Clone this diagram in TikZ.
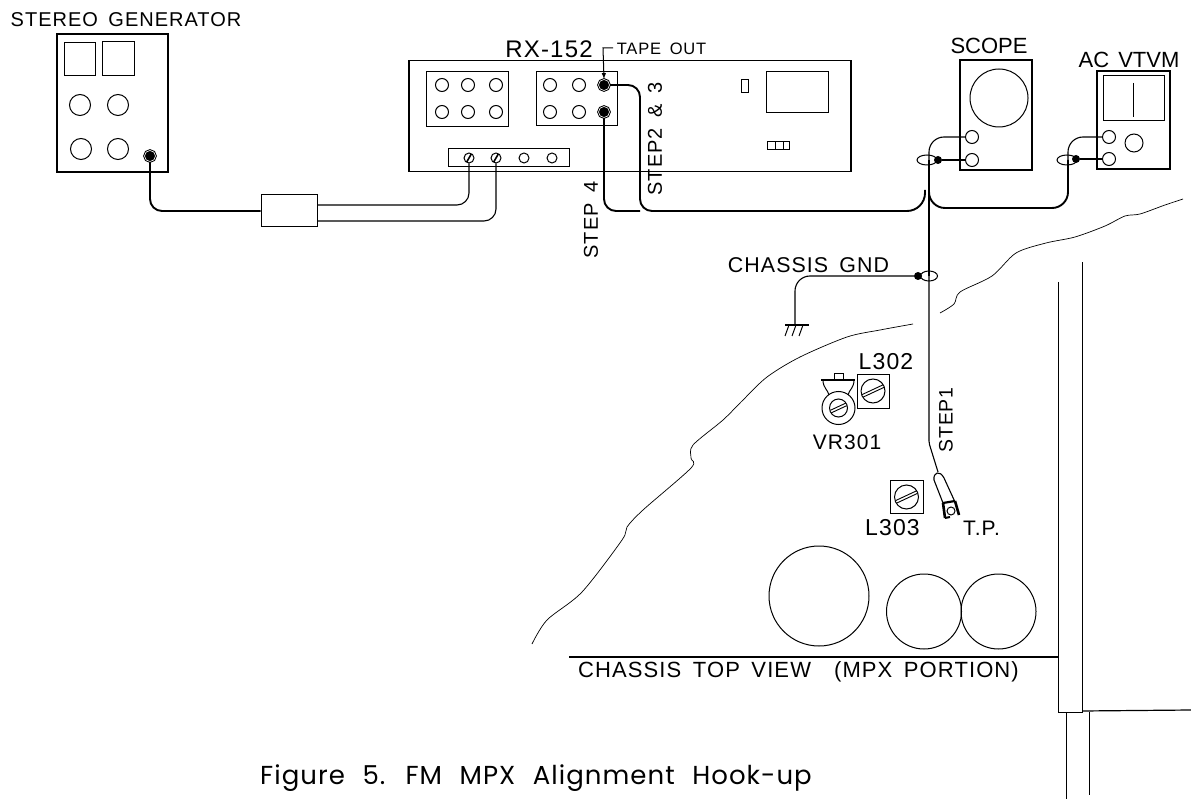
\documentclass[tikz,border=0pt]{standalone}
\usepackage{fontspec}
\usetikzlibrary{shapes.geometric}
\newfontfamily\lblfont[LetterSpace=5,WordSpace=1.6]{Liberation Sans}
\newfontfamily\tightfont[WordSpace=1.5]{Liberation Sans}
\newfontfamily\capfont[LetterSpace=4,WordSpace=2.2]{Poppins}

\tikzset{
  panel/.style={draw, shape=rectangle, inner sep=0pt, line width=1pt},
  unit/.style={panel, line width=1.5pt},
  knob/.style={draw, shape=circle, inner sep=0pt, minimum size=#1pt, line width=1pt},
  jack/.style={draw, shape=circle, inner sep=0pt, minimum size=11pt, fill=black, line width=1pt, double=white, double distance=0.6pt},
  screw/.style={knob=#1, path picture={\draw[shift={(path picture bounding box.center)}, line width=1.6pt] (240:{#1*0.5pt}) -- (60:{#1*0.5pt});}},
  slotted/.style={knob=#1, path picture={\draw[shift={(path picture bounding box.center)}, line width=0.9pt] ([yshift=1.5pt]205:{#1*0.5pt}) -- ([yshift=1.5pt]25:{#1*0.5pt}); \draw[shift={(path picture bounding box.center)}, line width=0.9pt] ([yshift=-1.5pt]205:{#1*0.5pt}) -- ([yshift=-1.5pt]25:{#1*0.5pt});}},
  clipring/.style={draw, shape=ellipse, inner sep=0pt, minimum width=20pt, minimum height=10pt, line width=1pt},
  dot/.style={shape=circle, fill=black, inner sep=0pt, minimum size=8pt},
  wire/.style={line width=1.9pt, rounded corners=12pt},
  lead/.style={line width=1.1pt, rounded corners=12pt},
  edge line/.style={line width=0.7pt},
  lbl/.style={inner sep=0pt, font=\lblfont\fontsize{#1}{#1}\selectfont},
  lbl/.default=20,
  biglbl/.style={inner sep=0pt, font=\tightfont\fontsize{22}{22}\selectfont}
}

\begin{document}
\begin{tikzpicture}[x=1pt, y=-1pt]
\useasboundingbox (0,0) rectangle (1191,799);

% stereo generator
\node[lbl] (gentxt) at (126,20) {STEREO GENERATOR};
\node[unit, minimum width=111pt, minimum height=138pt] (gen) at (112.5,103) {};
\node[panel, minimum width=31pt, minimum height=33pt] (genA) at (79.5,59.5) {};
\node[panel, minimum width=32pt, minimum height=34pt] (genB) at (118,59) {};
\node[knob=21] (gen1) at (80,105) {};
\node[knob=21] (gen2) at (118,105) {};
\node[knob=21] (gen3) at (81,149) {};
\node[knob=21] (gen4) at (118,149) {};
\node[jack] (genjack) at (150,156) {};
\node[panel, minimum width=56pt, minimum height=32pt] (pad) at (289,211) {};
\coordinate (padA) at (317,205);
\coordinate (padB) at (317,221);

% receiver
\node[lbl=24] (rxtxt) at (549,49) {RX-152};
\node[lbl=16.5] (tapetxt) at (661.5,49) {TAPE OUT};
\node[unit, minimum width=442pt, minimum height=111pt] (rx) at (630,116) {};
\node[panel, minimum width=82pt, minimum height=55pt] (rxA) at (467,99.5) {};
\node[panel, minimum width=81pt, minimum height=54pt] (rxB) at (576.5,99) {};
\node[panel, minimum width=121pt, minimum height=18pt] (strip) at (508.5,158) {};
\node[knob=13] (a1) at (442,85) {};
\node[knob=13] (a2) at (468,85) {};
\node[knob=13] (a3) at (496,85) {};
\node[knob=13] (a4) at (442,112) {};
\node[knob=13] (a5) at (468,112) {};
\node[knob=13] (a6) at (496,112) {};
\node[knob=13] (b1) at (550,85) {};
\node[knob=13] (b2) at (579,85) {};
\node[knob=13] (b3) at (550,112) {};
\node[knob=13] (b4) at (579,112) {};
\node[jack] (tapejack) at (604,85) {};
\node[jack] (stepjack) at (604,112) {};
\node[screw=10] (s1) at (469,158) {};
\node[screw=10] (s2) at (496,158) {};
\node[knob=10] (s3) at (524,158) {};
\node[knob=10] (s4) at (552,158) {};
\node[panel, minimum width=7pt, minimum height=13pt] (lamp) at (744.5,86.5) {};
\node[panel, minimum width=62pt, minimum height=41pt] (dial) at (797,92.5) {};
\node[panel, minimum width=22pt, minimum height=8pt] (sw) at (778,146) {};
\draw[line width=1pt] (sw.north)++(-3,0) -- ++(0,8);
\draw[line width=1pt] (sw.north)++(5,0) -- ++(0,8);
\coordinate (tapebend) at (603,48);
\coordinate (tapeend) at (613,48);
\draw[line width=1pt, -latex] (tapeend) -- (tapebend) -- (tapejack.north);
\node[lbl=20, rotate=90] (step23) at (655,139) {STEP2 \& 3};
\node[lbl=20, rotate=90] (step4) at (591,220) {STEP 4};

% scope
\node[biglbl] (scopetxt) at (989,46) {SCOPE};
\node[unit, minimum width=72pt, minimum height=110pt] (scope) at (996,115) {};
\node[knob=58] (crt) at (999,98) {};
\node[knob=13] (scopeA) at (972,137) {};
\node[knob=13] (scopeB) at (972,160) {};

% vtvm
\node[biglbl] (vtvmtxt) at (1129,60) {AC VTVM};
\node[unit, minimum width=73pt, minimum height=98pt] (vtvm) at (1133.5,120) {};
\node[panel, minimum width=61pt, minimum height=45pt] (meter) at (1134,98.5) {};
\coordinate (needleA) at (1133,83);
\coordinate (needleB) at (1133,117);
\draw[line width=1pt] (needleA) to (needleB);
\node[knob=13] (vtvmA) at (1109,137) {};
\node[knob=13] (vtvmB) at (1109,159) {};
\node[knob=18] (vtvmC) at (1134,143) {};

% leads
\node[clipring] (clipS) at (927,160) {};
\node[dot] (dotS) at (938,160) {};
\node[clipring] (clipV) at (1067,160) {};
\node[dot] (dotV) at (1076,159) {};
\node[clipring, minimum width=17pt] (clipG) at (929,276) {};
\node[dot] (dotG) at (918,276) {};
\coordinate (main) at (929,160);
\coordinate (bendA) at (640,211);
\coordinate (busL) at (925,190);
\coordinate (busR) at (929,180);
\coordinate (bendR) at (1068,208);
\coordinate (vmid) at (1068,160);
\coordinate (earth) at (795,325);
\coordinate (probebend) at (929,443);
\coordinate (probetop) at (938,472);

\draw[wire] (genjack) |- (pad);
\draw[lead] (padA) -| (s1);
\draw[lead] (padB) -| (s2);
\draw[wire] (tapejack) -| (bendA) [rounded corners=18pt] -| (busL);
\draw[wire] (stepjack) |- (bendA);
\draw[lead, rounded corners=15pt] (scopeA) -| (main);
\draw[wire] (main) -- (clipG.center);
\draw[lead, rounded corners=2pt] (clipG.center) -- (probebend) -- (probetop);
\draw[lead] (dotS) to (scopeB);
\draw[wire, rounded corners=16pt] (busR) |- (bendR) -- (vmid);
\draw[lead, rounded corners=15pt] (vmid) |- (vtvmA);
\draw[lead] (dotV) to (vtvmB);
\draw[lead, rounded corners=15pt] (dotG) -| (earth);

% ground
\draw[line width=1.6pt] (earth)++(-10,0) -- ++(24,0);
\draw[line width=1pt] (earth)++(-6,0) -- ++(-4,11);
\draw[line width=1pt] (earth)++(1,0) -- ++(-4,11);
\draw[line width=1pt] (earth)++(8,0) -- ++(-4,11);
\node[lbl=21.4] (gndtxt) at (808.5,265) {CHASSIS GND};

% chassis
\node[panel, minimum width=32pt, minimum height=33pt] (l302box) at (873,391.5) {};
\node[slotted=24] (l302) at (873,391) {};
\node[lbl=23] (l302txt) at (886,362) {L302};
\node[knob=33] (vr) at (838.5,408) {};
\node[slotted=18] (vrs) at (838.5,408) {};
\draw[line width=2pt] (821,380) -- (855,380);
\draw[line width=1pt] (834,380) -- (834,374) -- (843,374) -- (843,380);
\draw[line width=1pt] (823,380) .. controls (823,388) and (828,390) .. (829,395);
\draw[line width=1pt] (854,380) .. controls (854,388) and (849,390) .. (848,395);
\node[lbl=21] (vrtxt) at (847,442) {VR301};
\node[panel, minimum width=33pt, minimum height=33pt] (l303box) at (906.5,496.5) {};
\node[slotted=24] (l303) at (906.5,497) {};
\node[lbl=23] (l303txt) at (892.5,528) {L303};
\node[lbl=21] (tptxt) at (981.5,528) {T.P.};
\node[lbl=19.5, rotate=90] (step1) at (946,420) {STEP1};

% probe
\draw[line width=1.1pt] (943,503) -- (934,480) .. controls (933,472) and (940,470) .. (944,478) -- (955,502);
\draw[line width=2.2pt] (943,503) -- (955,501);
\draw[line width=2.6pt] (943,503) -- (945,518);
\draw[line width=2.6pt] (955,501) -- (959,515);
\draw[line width=2pt] (945,518) -- (950,517);
\node[knob=8] (tip) at (951,511) {};

\node[knob=100] (capA) at (819,596) {};
\node[knob=75] (capB) at (924,611.5) {};
\node[knob=75] (capC) at (998.5,611.5) {};

\draw[line width=1.2pt] (569,657) -- (1058,657);
\node[lbl=22] (toptxt) at (798.5,672) {CHASSIS TOP VIEW  ~(MPX PORTION)};

\draw[edge line] (1058,282) -- (1058,712) -- (1082,712) -- (1082,262);
\draw[line width=1.2pt] (1082,711) -- (1191,710);
\draw[edge line] (1066,712) -- (1066,799);
\draw[edge line] (1089,712) -- (1089,795);

\draw[edge line] plot[smooth, tension=0.5] coordinates {(940,313) (954,304) (960,292) (992,276) (1016,253) (1046,243) (1075,237) (1105,226) (1125,216) (1140,214) (1165,205) (1183,199)};
\draw[edge line] plot[smooth, tension=0.5] coordinates {(913,324) (880,330) (847,337) (800,357) (767,377) (743,400) (723,420) (693,445) (691,458) (691,468) (643,510) (627,527) (622,540) (582,592) (547,620) (532,644)};

\node[inner sep=0pt, font=\capfont\fontsize{26}{26}\selectfont] (caption) at (536,778) {Figure 5.  FM  MPX  Alignment  Hook-up};
\end{tikzpicture}
\end{document}
